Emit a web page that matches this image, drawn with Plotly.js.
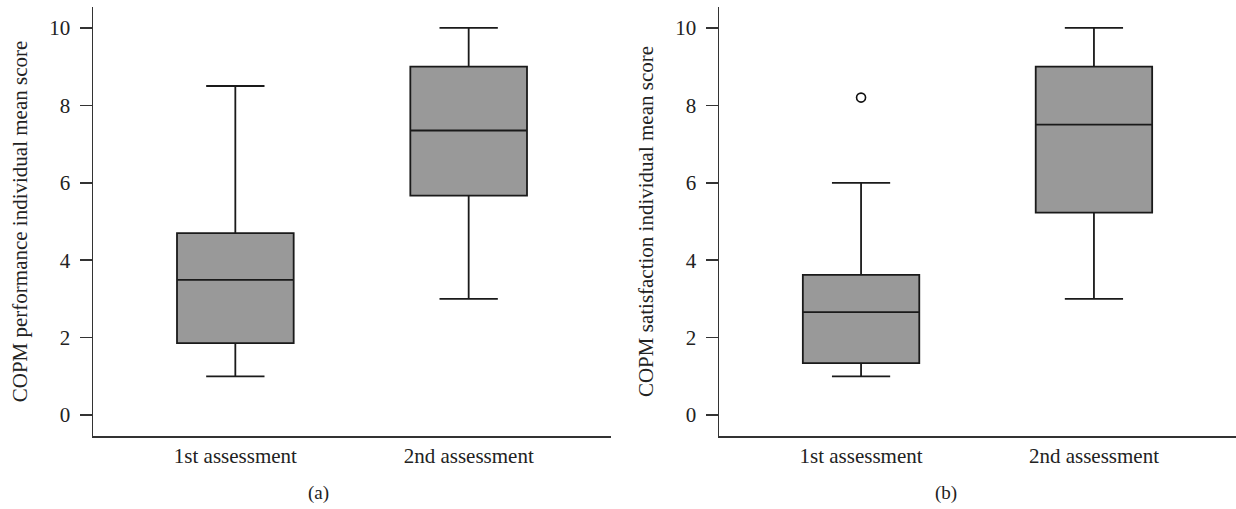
<!DOCTYPE html>
<html>
<head>
<meta charset="utf-8">
<script src="https://cdn.plot.ly/plotly-3.0.1.min.js"></script>
<style>html,body{margin:0;padding:0;background:#fff;}#chart{width:1236px;height:509px;}</style>
</head>
<body>
<div id="chart"></div>
<script>
const categories = ["1st assessment", "2nd assessment"];

// Panel (a): COPM performance
const perfLower = [1.0, 3.0];
const perfQ1 = [1.86, 5.67];
const perfMedian = [3.49, 7.35];
const perfQ3 = [4.70, 9.0];
const perfUpper = [8.5, 10.0];

// Panel (b): COPM satisfaction
const satLower = [1.0, 3.0];
const satQ1 = [1.34, 5.23];
const satMedian = [2.66, 7.5];
const satQ3 = [3.62, 9.0];
const satUpper = [6.0, 10.0];
const satOutlierCat = ["1st assessment"];
const satOutlierVal = [8.2];

const yTitleA = "COPM performance individual mean score";
const yTitleB = "COPM satisfaction individual mean score";
const yTicks = [0, 2, 4, 6, 8, 10];

const fontFam = "Liberation Serif, Times New Roman, serif";
const boxStyle = {
  type: "box",
  fillcolor: "#999999",
  line: {color: "#1a1a1a", width: 1.8},
  width: 0.5,
  whiskerwidth: 0.5,
  boxpoints: false,
  hoverinfo: "skip",
  showlegend: false
};

const traces = [
  Object.assign({}, boxStyle, {
    x: categories, q1: perfQ1, median: perfMedian, q3: perfQ3,
    lowerfence: perfLower, upperfence: perfUpper,
    xaxis: "x", yaxis: "y"
  }),
  Object.assign({}, boxStyle, {
    x: categories, q1: satQ1, median: satMedian, q3: satQ3,
    lowerfence: satLower, upperfence: satUpper,
    xaxis: "x2", yaxis: "y2"
  }),
  {
    type: "scatter", mode: "markers",
    x: satOutlierCat, y: satOutlierVal,
    marker: {symbol: "circle-open", size: 9, color: "#111111", line: {width: 1.6}},
    xaxis: "x2", yaxis: "y2", showlegend: false, hoverinfo: "skip"
  }
];

function xAx(domain, anchor) {
  return {
    domain: domain, anchor: anchor, type: "category",
    categoryorder: "array", categoryarray: categories,
    range: [-0.61, 1.61],
    showline: true, linecolor: "#333333", linewidth: 1.5,
    ticks: "", showgrid: false, zeroline: false,
    tickfont: {family: fontFam, size: 21, color: "#222222"},
    fixedrange: true
  };
}
function yAx(anchor, title) {
  return {
    anchor: anchor, range: [-0.54, 10.54],
    tickvals: yTicks, ticktext: yTicks.map(String),
    showline: true, linecolor: "#333333", linewidth: 1.5,
    ticks: "outside", ticklen: 12, tickwidth: 1.5, tickcolor: "#333333",
    ticklabelstandoff: 5,
    showgrid: false, zeroline: false,
    tickfont: {family: fontFam, size: 21, color: "#222222"},
    title: {text: title, font: {family: fontFam, size: 21, color: "#222222"}, standoff: 16},
    fixedrange: true
  };
}

const layout = {
  width: 1236, height: 509,
  margin: {l: 0, r: 0, t: 7, b: 73},
  paper_bgcolor: "#ffffff", plot_bgcolor: "#ffffff",
  showlegend: false,
  xaxis: xAx([93/1236, 611/1236], "y"),
  yaxis: yAx("x", yTitleA),
  xaxis2: xAx([719/1236, 1], "y2"),
  yaxis2: yAx("x2", yTitleB),
  annotations: [
    {text: "(a)", xref: "paper", yref: "paper", x: 318/1236, y: -0.133, xanchor: "center", yanchor: "middle", showarrow: false, font: {family: fontFam, size: 19, color: "#222222"}},
    {text: "(b)", xref: "paper", yref: "paper", x: 946/1236, y: -0.133, xanchor: "center", yanchor: "middle", showarrow: false, font: {family: fontFam, size: 19, color: "#222222"}}
  ]
};

Plotly.newPlot("chart", traces, layout, {displayModeBar: false, staticPlot: true});
</script>
</body>
</html>
